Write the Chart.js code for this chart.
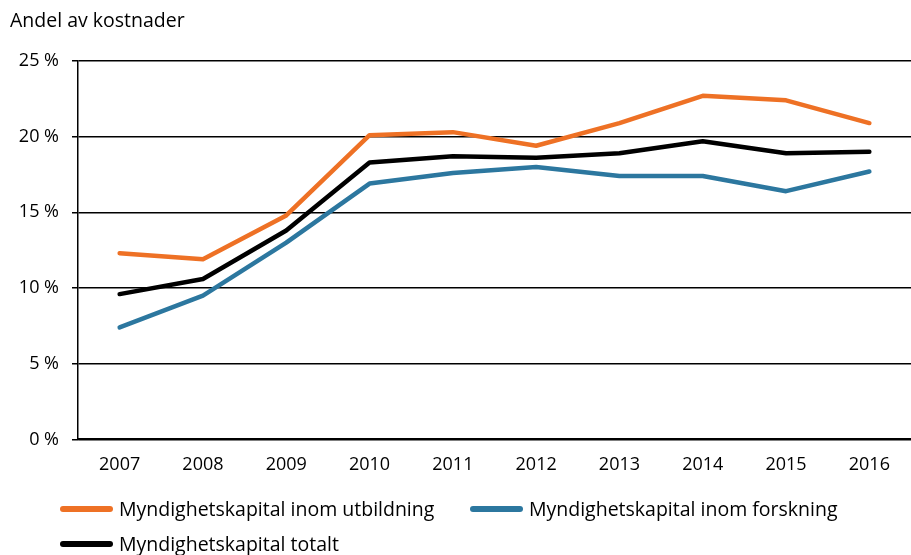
<!DOCTYPE html>
<html>
<head>
<meta charset="utf-8">
<script src="https://cdn.jsdelivr.net/npm/chart.js@4"></script>
<style>
  body { margin: 0; background: #fff; }
  #wrap { position: relative; width: 911px; height: 555px; font-family: "Open Sans", sans-serif; }
  .leg { position: absolute; display: flex; align-items: center; font-size: 19.5px; line-height: 24px; color: #000; white-space: nowrap; }
  .leg span.sw { display: inline-block; width: 53px; height: 6px; border-radius: 3px; margin-right: 6px; }
</style>
</head>
<body>
<div id="wrap">
  <canvas id="myChart" width="911" height="555"></canvas>
  <div class="leg" style="left:60px; top:497px;"><span class="sw" style="background:#EE7125"></span>Myndighetskapital inom utbildning</div>
  <div class="leg" style="left:470px; top:497px;"><span class="sw" style="background:#2C779F"></span>Myndighetskapital inom forskning</div>
  <div class="leg" style="left:60px; top:532px;"><span class="sw" style="background:#000"></span>Myndighetskapital totalt</div>
</div>
<script>
// years on the x axis
var years = ['2007', '2008', '2009', '2010', '2011', '2012', '2013', '2014', '2015', '2016'];

// share of costs, percent
var utbildning = [12.3, 11.9, 14.8, 20.1, 20.3, 19.4, 20.9, 22.7, 22.4, 20.9];
var forskning = [7.4, 9.5, 13.0, 16.9, 17.6, 18.0, 17.4, 17.4, 16.4, 17.7];
var totalt = [9.6, 10.6, 13.8, 18.3, 18.7, 18.6, 18.9, 19.7, 18.9, 19.0];

var yTicks = [0, 5, 10, 15, 20, 25];

Chart.defaults.font.family = '"Open Sans", sans-serif';
Chart.defaults.color = '#000';

var ctx = document.getElementById('myChart').getContext('2d');
var chart = new Chart(ctx, {
    type: 'line',
    data: {
        labels: years,
        datasets: [{
            label: 'Myndighetskapital inom utbildning',
            data: utbildning,
            borderColor: '#EE7125',
            backgroundColor: '#EE7125'
        }, {
            label: 'Myndighetskapital inom forskning',
            data: forskning,
            borderColor: '#2C779F',
            backgroundColor: '#2C779F'
        }, {
            label: 'Myndighetskapital totalt',
            data: totalt,
            borderColor: '#000',
            backgroundColor: '#000'
        }]
    },
    options: {
        responsive: false,
        animation: false,
        layout: {
            padding: { left: 10, right: 0, top: 0, bottom: 64 }
        },
        elements: {
            line: { borderWidth: 4.5, tension: 0, borderCapStyle: 'round', borderJoinStyle: 'round' },
            point: { radius: 0 }
        },
        plugins: {
            legend: { display: false },
            tooltip: { enabled: false },
            title: {
                display: true,
                text: 'Andel av kostnader',
                align: 'start',
                color: '#000',
                font: { size: 19.5, weight: 'normal' },
                padding: { top: 10, bottom: 27.6 }
            }
        },
        scales: {
            x: {
                offset: true,
                grid: { display: false, drawTicks: false },
                border: { display: true, color: '#000', width: 2 },
                ticks: { font: { size: 18 }, padding: 15, maxRotation: 0 }
            },
            y: {
                min: 0,
                max: 25,
                afterBuildTicks: function (axis) {
                    axis.ticks = yTicks.map(function (v) { return { value: v }; });
                },
                afterFit: function (axis) { axis.width = 68; },
                grid: { color: '#000', lineWidth: 1.5, tickLength: 6 },
                border: { display: true, color: '#000', width: 1.5 },
                ticks: {
                    font: { size: 18 },
                    padding: 13,
                    callback: function (v) { return v + ' %'; }
                }
            }
        }
    }
});
</script>
</body>
</html>
